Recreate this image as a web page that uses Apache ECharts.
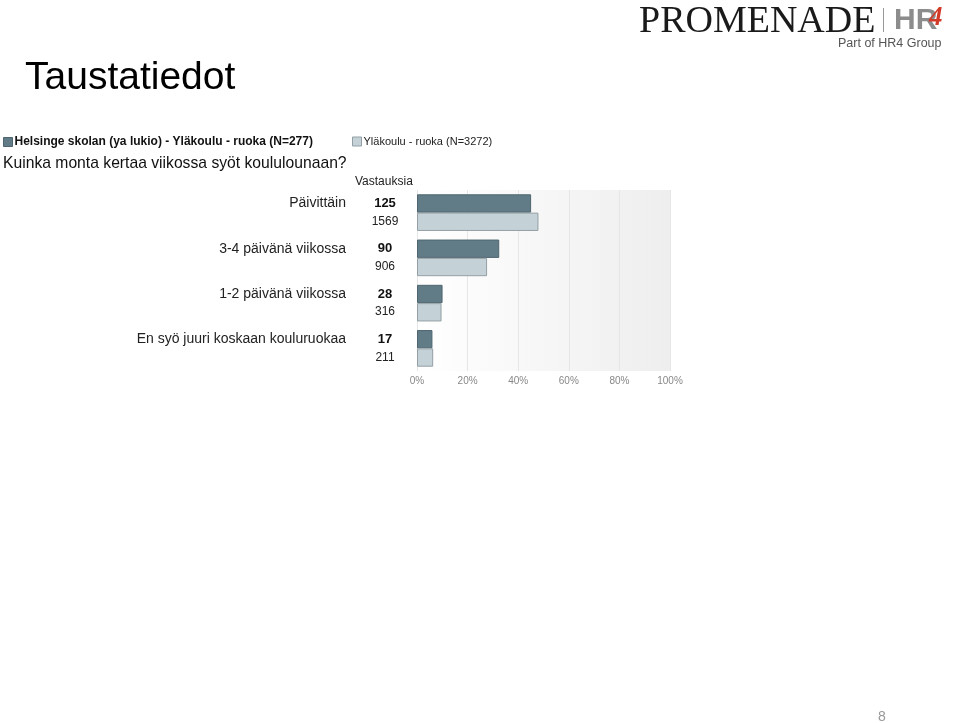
<!DOCTYPE html>
<html>
<head>
<meta charset="utf-8">
<script src="https://cdn.jsdelivr.net/npm/echarts@6/dist/echarts.min.js"></script>
<style>
html,body{margin:0;padding:0;background:#fff;}
#c{width:960px;height:723px;}
</style>
</head>
<body>
<div id="c"></div>
<script>
var categories = ['Päivittäin', '3-4 päivänä viikossa', '1-2 päivänä viikossa', 'En syö juuri koskaan kouluruokaa'];
var counts1 = [125, 90, 28, 17];
var counts2 = [1569, 906, 316, 211];
var n1 = 277;
var n2 = 3272;
var seriesName1 = 'Helsinge skolan (ya lukio) - Yläkoulu - ruoka (N=277)';
var seriesName2 = 'Yläkoulu - ruoka (N=3272)';
var xTicks = [0, 20, 40, 60, 80, 100];

var pct1 = counts1.map(function (v) { return +(v / n1 * 100).toFixed(1); });
var pct2 = counts2.map(function (v) { return +(v / n2 * 100).toFixed(1); });

var chart = echarts.init(document.getElementById('c'), null, {renderer: 'canvas'});
var font = 'Liberation Sans, Arial, Helvetica, sans-serif';

chart.setOption({
  animation: false,
  textStyle: {fontFamily: font},
  title: [
    {text: 'Taustatiedot', left: 25, top: 59, padding: 0, textStyle: {fontSize: 39, fontWeight: 'normal', color: '#000', fontFamily: font}},
    {text: 'Kuinka monta kertaa viikossa syöt koululounaan?', left: 3, top: 156, padding: 0, textStyle: {fontSize: 15.7, fontWeight: 'normal', color: '#111', fontFamily: font}},
    {text: 'Vastauksia', left: 355, top: 176, padding: 0, textStyle: {fontSize: 12, fontWeight: 'normal', color: '#222', fontFamily: font}},
    {text: '8', left: 878, top: 710, padding: 0, textStyle: {fontSize: 14, fontWeight: 'normal', color: '#999', fontFamily: font}}
  ],
  legend: [
    {data: [seriesName1], left: 3, top: 136, padding: 0, icon: 'rect', itemWidth: 9, itemHeight: 9, itemGap: 4,
     itemStyle: {borderColor: '#4d6570', borderWidth: 1},
     textStyle: {fontSize: 12, fontWeight: 'bold', color: '#111', fontFamily: font, padding: [0, 0, 0, -3]}},
    {data: [seriesName2], left: 352, top: 136, padding: 0, icon: 'rect', itemWidth: 9, itemHeight: 9,
     itemStyle: {borderColor: '#939fa4', borderWidth: 1},
     textStyle: {fontSize: 11, fontWeight: 'normal', color: '#222', fontFamily: font, padding: [0, 0, 0, -3]}}
  ],
  grid: {left: 417, right: 290, top: 190, bottom: 352, show: true, borderWidth: 0,
    backgroundColor: new echarts.graphic.LinearGradient(0, 0, 1, 0, [{offset: 0, color: '#ffffff'}, {offset: 1, color: '#eeeeee'}])},
  xAxis: {
    type: 'value', min: 0, max: 100, interval: 20,
    axisLine: {show: false}, axisTick: {show: false},
    splitLine: {show: true, lineStyle: {color: '#e6e6e6', width: 1}},
    axisLabel: {formatter: function (v) { return v + '%'; }, color: '#888', fontSize: 10, margin: 5, fontFamily: font}
  },
  yAxis: {
    type: 'category', data: categories, inverse: true,
    axisLine: {show: false}, axisTick: {show: false}, splitLine: {show: false},
    axisLabel: {
      margin: 12,
      formatter: function (value, index) {
        return '{n|' + value + '}{s|}{b|' + counts1[index] + '}\n{h|' + value + '}{s|}{c|' + counts2[index] + '}';
      },
      rich: {
        n: {fontSize: 14, color: '#222', lineHeight: 18, fontFamily: font},
        h: {fontSize: 14, color: 'rgba(0,0,0,0)', lineHeight: 18, fontFamily: font},
        s: {width: 19, lineHeight: 18},
        b: {fontSize: 13, fontWeight: 'bold', color: '#111', width: 40, align: 'center', lineHeight: 18, fontFamily: font},
        c: {fontSize: 12, color: '#222', width: 40, align: 'center', lineHeight: 18, fontFamily: font}
      }
    }
  },
  series: [
    {name: seriesName1, type: 'bar', data: pct1, barGap: '0%', barCategoryGap: '19%',
     itemStyle: {color: '#627c87', borderColor: '#4d6570', borderWidth: 1}},
    {name: seriesName2, type: 'bar', data: pct2,
     itemStyle: {color: '#c4d2d7', borderColor: '#939fa4', borderWidth: 1}}
  ],
  graphic: [
    {type: 'text', left: 639, top: 3, style: {text: 'PROMENADE', font: '38px "Liberation Serif", "Times New Roman", serif', fill: '#1a1a1a'}},
    {type: 'rect', shape: {x: 883, y: 8, width: 1, height: 24}, style: {fill: '#999'}},
    {type: 'text', left: 894, top: 6, style: {text: 'HR', font: 'bold 30px "Liberation Sans", Arial, sans-serif', fill: '#8c8c8c'}},
    {type: 'text', left: 929, top: 5, style: {text: '4', font: 'italic bold 27px "Liberation Serif", serif', fill: '#d23a2a'}},
    {type: 'text', left: 838, top: 37, style: {text: 'Part of HR4 Group', font: '12.5px "Liberation Sans", Arial, sans-serif', fill: '#555'}}
  ]
});
</script>
</body>
</html>
